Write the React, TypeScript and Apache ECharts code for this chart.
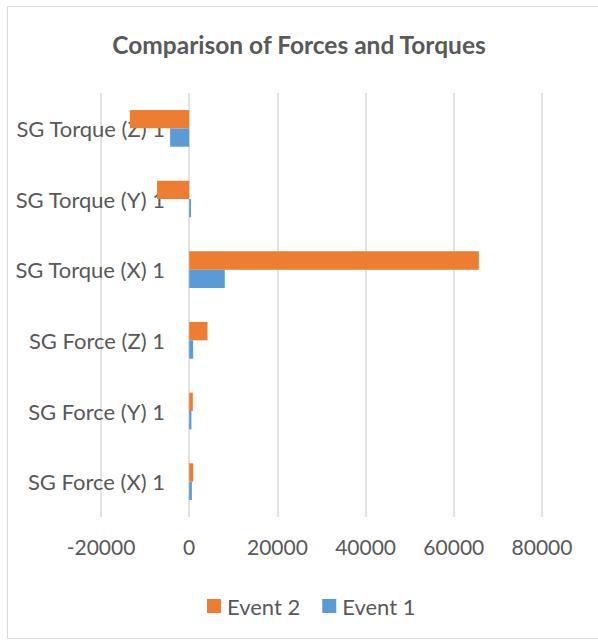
import React, { useEffect, useRef } from "react";
import * as echarts from "echarts";

const categories = [
  "SG Force (X) 1",
  "SG Force (Y) 1",
  "SG Force (Z) 1",
  "SG Torque (X) 1",
  "SG Torque (Y) 1",
  "SG Torque (Z) 1",
];
const event1 = [600, 500, 900, 8070, 400, -4330];
const event2 = [900, 820, 4150, 65680, -7280, -13470];
const xTicks = { min: -20000, max: 80000, interval: 20000 };

const FONT = "Lato, 'Noto Sans', sans-serif";
const TEXT = "#595959";
const GRID = "#d9d9d9";

export default function App() {
  const ref = useRef<HTMLDivElement>(null);
  useEffect(() => {
    if (!ref.current) return;
    const chart = echarts.init(ref.current, null, { renderer: "svg" });
    chart.setOption({
      animation: false,
      backgroundColor: "#ffffff",
      textStyle: { fontFamily: FONT },
      title: {
        text: "Comparison of Forces and Torques",
        left: "center",
        top: 27,
        textStyle: { fontFamily: FONT, fontSize: 24.5, fontWeight: "bold", color: TEXT },
      },
      graphic: [
        {
          type: "rect",
          shape: { x: 7.5, y: 6.5, width: 600, height: 632 },
          style: { fill: "none", stroke: GRID, lineWidth: 1 },
          silent: true,
        },
      ],
      legend: {
        data: ["Event 2", "Event 1"],
        top: 590,
        left: 202,
        itemWidth: 14,
        itemHeight: 14,
        itemGap: 22,
        icon: "rect",
        textStyle: { fontFamily: FONT, fontSize: 22, color: TEXT, padding: [0, 0, 0, 1] },
      },
      grid: {
        left: 101,
        right: 56,
        top: 93,
        bottom: 124,
        containLabel: false,
        outerBoundsMode: "none",
      },
      xAxis: {
        type: "value",
        min: xTicks.min,
        max: xTicks.max,
        interval: xTicks.interval,
        axisLine: { show: false },
        axisTick: { show: false },
        splitLine: { show: true, lineStyle: { color: GRID, width: 1.5 } },
        axisLabel: {
          fontFamily: FONT,
          fontSize: 21,
          color: TEXT,
          margin: 19,
          formatter: (v: number) => String(v),
        },
      },
      yAxis: {
        type: "category",
        data: categories,
        axisLine: { show: false, onZero: false },
        axisTick: { show: false },
        axisLabel: { fontFamily: FONT, fontSize: 22, color: TEXT, margin: -64 },
      },
      series: [
        {
          name: "Event 2",
          type: "bar",
          data: event2,
          itemStyle: { color: "#ED7D31" },
          barGap: "0%",
          barCategoryGap: "48%",
        },
        {
          name: "Event 1",
          type: "bar",
          data: event1,
          itemStyle: { color: "#5B9BD5" },
          barGap: "0%",
          barCategoryGap: "48%",
        },
      ],
    });
    return () => chart.dispose();
  }, []);
  return (
    <div
      ref={ref}
      style={{ position: "absolute", left: 0, top: 0, width: 598, height: 641 }}
    />
  );
}
